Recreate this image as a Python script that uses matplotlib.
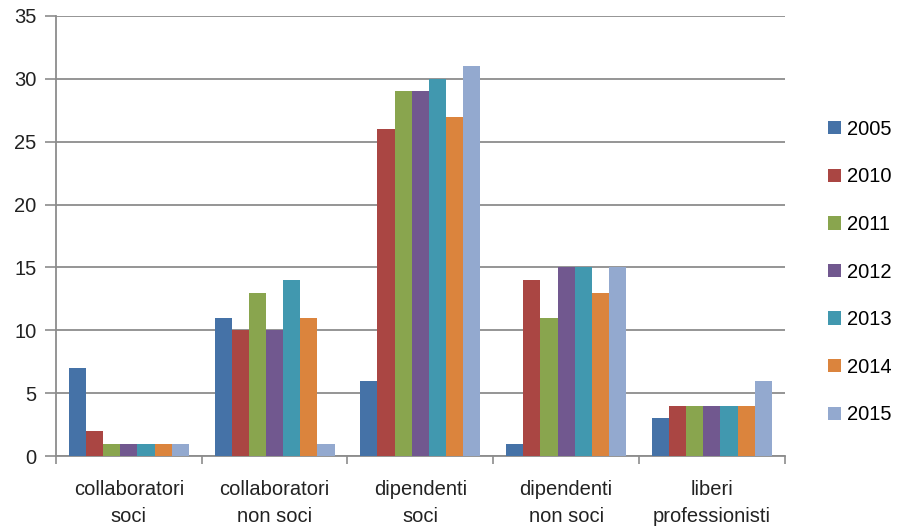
import numpy as np
import matplotlib
matplotlib.use("Agg")
import matplotlib.pyplot as plt

# Dati per categoria e anno
categorie = ["collaboratori\nsoci", "collaboratori\nnon soci", "dipendenti\nsoci",
             "dipendenti\nnon soci", "liberi\nprofessionisti"]
anni = ["2005", "2010", "2011", "2012", "2013", "2014", "2015"]
valori = {
    "2005": [7, 11, 6, 1, 3],
    "2010": [2, 10, 26, 14, 4],
    "2011": [1, 13, 29, 11, 4],
    "2012": [1, 10, 29, 15, 4],
    "2013": [1, 14, 30, 15, 4],
    "2014": [1, 11, 27, 13, 4],
    "2015": [1, 1, 31, 15, 6],
}
colori = ["#4572A7", "#AA4643", "#89A54E", "#71588F", "#4198AF", "#DB843D", "#93A9CF"]

plt.rcParams['font.family'] = ['Liberation Sans', 'DejaVu Sans']

fig = plt.figure(figsize=(9.02, 5.31), dpi=100)
ax = fig.add_axes([0.062, 0.141, 0.808, 0.829])

n = len(anni)
larghezza = 1.0 / (n + 1.5)
x = np.arange(len(categorie))
for i, anno in enumerate(anni):
    pos = x + (i - (n - 1) / 2) * larghezza
    ax.bar(pos, valori[anno], width=larghezza, color=colori[i], label=anno, zorder=3)

ax.set_xlim(-0.5, len(categorie) - 0.5)
ax.set_ylim(0, 35)
ax.set_yticks(range(0, 36, 5))
ax.yaxis.grid(True, color="#8c8c8c", linewidth=1.3, zorder=0)

ax.set_xticks(np.arange(-0.5, len(categorie), 1.0))
ax.set_xticklabels([])
ax.set_xticks(x, minor=True)
ax.set_xticklabels(categorie, minor=True, fontsize=14.5, linespacing=1.55, color="#222222")
ax.tick_params(axis="x", which="major", length=6, color="#8c8c8c", width=1.2)
ax.tick_params(axis="x", which="minor", length=0, pad=17)
ax.tick_params(axis="y", length=8, color="#8c8c8c", width=1.2, labelsize=14.5,
               labelcolor="#222222", pad=6)

for s in ["top", "right"]:
    ax.spines[s].set_visible(False)
for s in ["left", "bottom"]:
    ax.spines[s].set_color("#8c8c8c")
    ax.spines[s].set_linewidth(1.3)

ax.legend(loc="center left", bbox_to_anchor=(1.0, 0.418), frameon=False,
          fontsize=14.5, labelspacing=1.42, handlelength=0.65, handleheight=0.65,
          handletextpad=0.3, borderaxespad=1.75)

fig.savefig("out.png", dpi=100)
